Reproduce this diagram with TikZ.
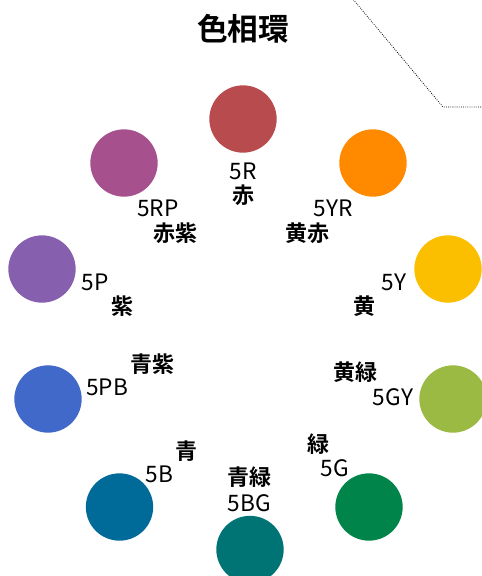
\documentclass[tikz,border=0pt]{standalone}
\usepackage{fontspec}
\setmainfont{Noto Sans CJK JP}
\newfontfamily\jpb{Noto Sans CJK JP Bold}
\newfontfamily\jpr{Noto Sans CJK JP}
\definecolor{cR}{HTML}{B84B4E}
\definecolor{cYR}{HTML}{FF8A00}
\definecolor{cY}{HTML}{FBBF00}
\definecolor{cGY}{HTML}{9BBA44}
\definecolor{cG}{HTML}{00844A}
\definecolor{cBG}{HTML}{007374}
\definecolor{cB}{HTML}{006A98}
\definecolor{cPB}{HTML}{4169C9}
\definecolor{cP}{HTML}{875FAF}
\definecolor{cRP}{HTML}{A6508D}
\tikzset{
  huecirc/.style={circle,minimum size=50.5pt,inner sep=0pt,fill=#1},
  codelbl/.style={inner sep=0pt,font=\jpr\fontsize{17pt}{17pt}\selectfont},
  kanjilbl/.style={inner sep=0pt,font=\jpb\fontsize{16.5pt}{16.5pt}\selectfont},
  titlelbl/.style={inner sep=0pt,font=\jpb\fontsize{23pt}{23pt}\selectfont},
}
\begin{document}
\begin{tikzpicture}[x=0.75pt,y=-0.75pt]
\useasboundingbox (0,0) rectangle (482,576);
\clip (0,0) rectangle (482,576);
\node[titlelbl] (title) at (243,29) {色相環};
\draw[densely dotted,line width=0.6pt] (352,-2) -- (443,107) -- (484,107);
% circles
\node[huecirc=cR]  (cR)  at (243,119) {};
\node[huecirc=cYR] (cYR) at (373,163) {};
\node[huecirc=cRP] (cRP) at (124,163) {};
\node[huecirc=cP]  (cP)  at (42,269) {};
\node[huecirc=cY]  (cY)  at (448,269) {};
\node[huecirc=cPB] (cPB) at (48,399) {};
\node[huecirc=cGY] (cGY) at (453,399) {};
\node[huecirc=cB]  (cB)  at (119.5,507) {};
\node[huecirc=cG]  (cG)  at (369,507) {};
\node[huecirc=cBG] (cBG) at (250,549.5) {};
% labels
\node[codelbl] (lR)  at (243,171) {5R};
\node[kanjilbl] (nR)  at (243,195) {赤};
\node[codelbl] (lRP) at (158,208) {5RP};
\node[kanjilbl] (nRP) at (175,233) {赤紫};
\node[codelbl] (lYR) at (333,208) {5YR};
\node[kanjilbl] (nYR) at (307.5,233) {黄赤};
\node[codelbl] (lP)  at (95,282) {5P};
\node[kanjilbl] (nP)  at (122,306) {紫};
\node[codelbl] (lY)  at (394,282) {5Y};
\node[kanjilbl] (nY)  at (364,306) {黄};
\node[codelbl] (lPB) at (107,387) {5PB};
\node[kanjilbl] (nPB) at (152,364) {青紫};
\node[codelbl] (lGY) at (393,397) {5GY};
\node[kanjilbl] (nGY) at (355,372) {黄緑};
\node[kanjilbl] (nB)  at (186,451) {青};
\node[codelbl] (lB)  at (159.5,474) {5B};
\node[kanjilbl] (nBG) at (249,477) {青緑};
\node[codelbl] (lBG) at (249.5,503.5) {5BG};
\node[kanjilbl] (nG)  at (318,444) {緑};
\node[codelbl] (lG)  at (335,468) {5G};
\end{tikzpicture}
\end{document}
